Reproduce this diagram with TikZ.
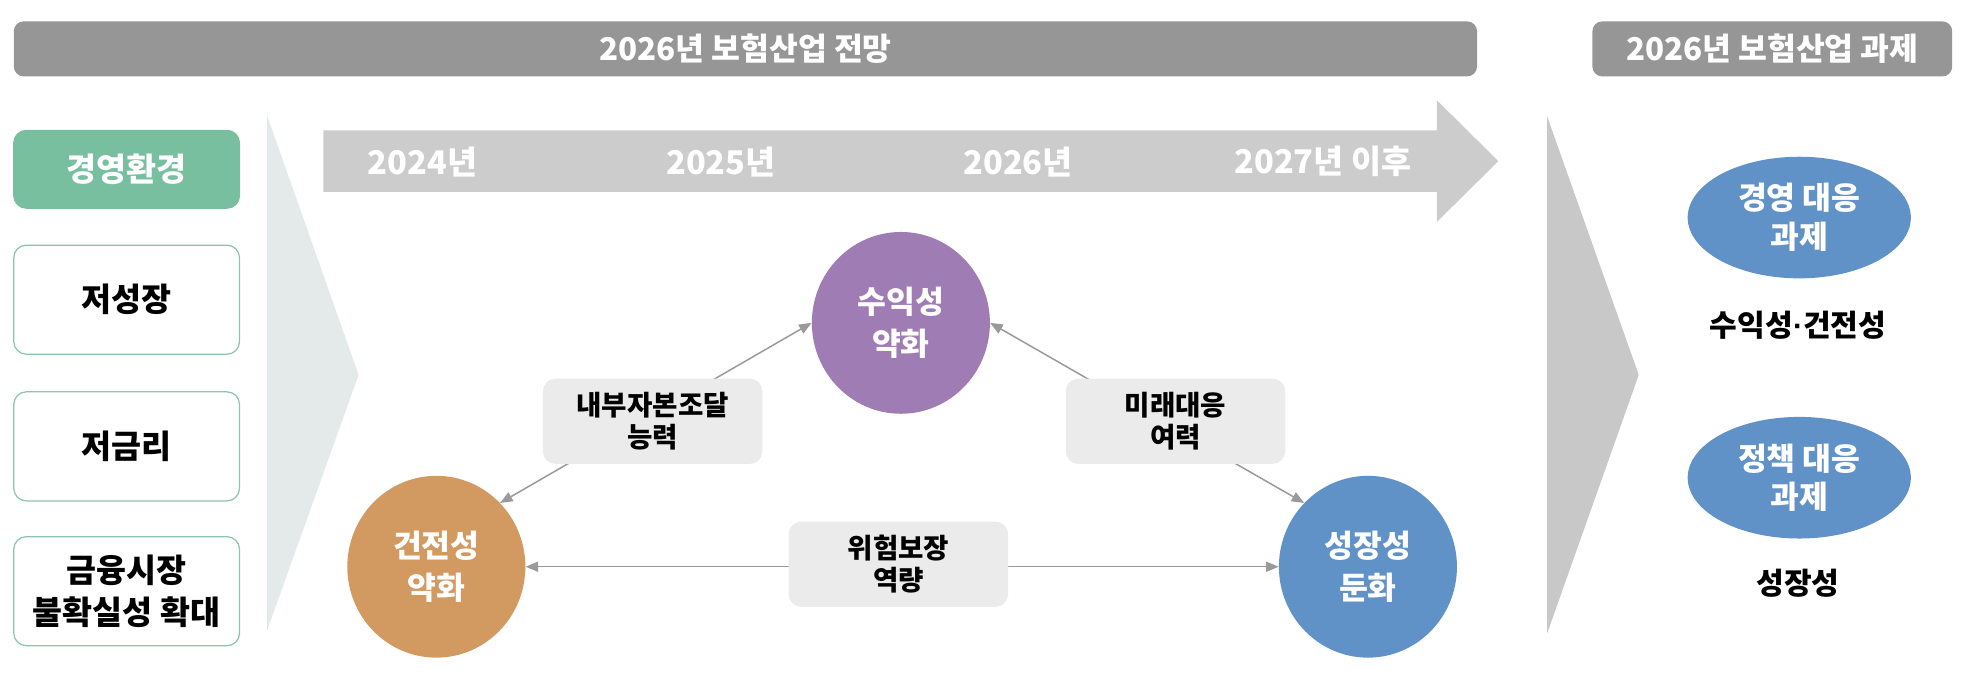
\documentclass[tikz,border=0pt]{standalone}
\usepackage{fontspec}
\setmainfont{Noto Sans CJK KR}
\newfontfamily\dotfont{Liberation Sans}
\usetikzlibrary{arrows.meta,shapes.geometric}

\definecolor{bargray}{RGB}{150,150,150}
\definecolor{envgreen}{RGB}{120,191,160}
\definecolor{envline}{RGB}{140,197,174}
\definecolor{chevlight}{RGB}{228,234,234}
\definecolor{chevdark}{RGB}{200,200,200}
\definecolor{timegray}{RGB}{204,204,204}
\definecolor{profpurple}{RGB}{160,124,181}
\definecolor{soundorange}{RGB}{210,154,97}
\definecolor{growblue}{RGB}{96,146,200}
\definecolor{tagfill}{RGB}{235,235,235}
\definecolor{linkgray}{RGB}{154,154,154}

\newcommand{\fs}[2]{\fontsize{#1}{#2}\selectfont}

\begin{document}
\begin{tikzpicture}[x=1pt,y=-1pt,
  headbar/.style={fill=bargray,rounded corners=8pt,text=white,minimum height=44pt,font=\bfseries\fs{25}{30}},
  envbox/.style={draw=envline,line width=1pt,fill=white,rounded corners=10pt,minimum width=180pt,minimum height=87pt,align=center,font=\bfseries\fs{26}{33}},
  year/.style={text=white,font=\bfseries\fs{26}{30}},
  issue/.style={ellipse,minimum width=142pt,minimum height=145pt,text=white,align=center,font=\bfseries\fs{25}{33}},
  task/.style={ellipse,fill=growblue,minimum width=178pt,minimum height=97pt,text=white,align=center,font=\bfseries\fs{25}{31}},
  tag/.style={fill=tagfill,rounded corners=10pt,minimum width=175pt,minimum height=68pt,align=center,font=\bfseries\fs{22}{26}},
  link/.style={draw=linkgray,line width=1.2pt,{Triangle[length=10pt,width=8pt]}-{Triangle[length=10pt,width=8pt]}},
  result/.style={font=\bfseries\fs{24}{28}}]

  \useasboundingbox (0,0) rectangle (1568,557);

  % headers
  \node[headbar,minimum width=1167pt] (outlook) at (594.5,39) {2026년 보험산업 전망};
  \node[headbar,minimum width=287pt] (tasks) at (1413.5,39) {2026년 보험산업 과제};

  % chevrons and timeline
  \fill[chevlight] (213,92) -- (286,299) -- (213,503) -- cycle;
  \fill[chevdark] (1234,93) -- (1307,299) -- (1234,505) -- cycle;
  \fill[timegray] (258,104) -- (1146,104) -- (1146,80) -- (1195,128.5) -- (1146,177) -- (1146,153) -- (258,153) -- cycle;
  \node[year] (y24) at (337,129) {2024년};
  \node[year] (y25) at (575,129) {2025년};
  \node[year] (y26) at (812,129) {2026년};
  \node[year] (y27) at (1055,129) {2027년 이후};

  % environment
  \node[envbox,fill=envgreen,draw=envgreen,text=white,minimum height=62pt] (env) at (101,135) {경영환경};
  \node[envbox] (lowgrowth) at (101,239) {저성장};
  \node[envbox] (lowrate) at (101,356) {저금리};
  \node[envbox] (uncertain) at (101,471.5) {금융시장\\불확실성 확대};

  % outlook
  \node[issue,fill=profpurple] (prof) at (718.5,257.5) {수익성\\약화};
  \node[issue,fill=soundorange] (sound) at (348,452) {건전성\\약화};
  \node[issue,fill=growblue] (growth) at (1091,452) {성장성\\둔화};
  \draw[link] (sound.45) -- (prof.west);
  \draw[link] (prof.east) -- (growth.135);
  \draw[link] (sound.east) -- (growth.west);
  \node[tag] (capital) at (520.5,336) {내부자본조달\\능력};
  \node[tag] (future) at (937.5,336) {미래대응\\여력};
  \node[tag] (risk) at (716.5,450) {위험보장\\역량};

  % tasks
  \node[task] (mgmt) at (1435,173.5) {경영 대응\\과제};
  \node[result] (mgmtres) at (1434,259) {수익성{\dotfont ·}건전성};
  \node[task] (policy) at (1435,381) {정책 대응\\과제};
  \node[result] (policyres) at (1434,465) {성장성};
\end{tikzpicture}
\end{document}
